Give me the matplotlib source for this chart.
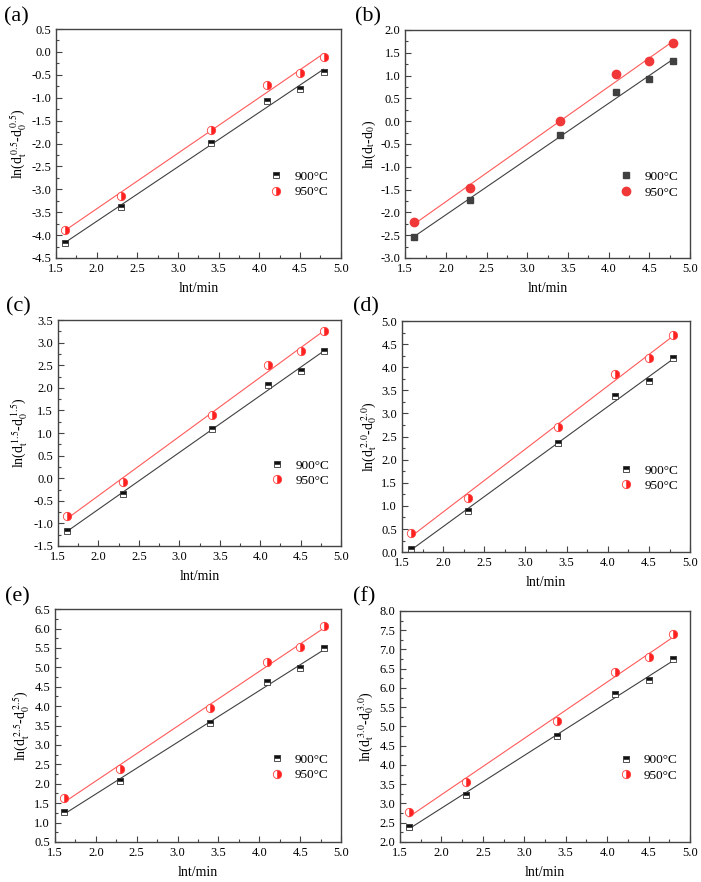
import matplotlib
matplotlib.use('Agg')
import matplotlib.pyplot as plt
import numpy as np

plt.rcParams['font.family'] = 'Liberation Serif'
plt.rcParams['mathtext.fontset'] = 'stix'

# ln t (min)
lnt = [1.61, 2.30, 3.40, 4.09, 4.50, 4.79]

# ln(d_t^n - d_0^n) for n = 0.5, 1.0, 1.5, 2.0, 2.5, 3.0
a_900 = [-4.18, -3.38, -1.98, -1.07, -0.80, -0.44]
a_950 = [-3.88, -3.14, -1.70, -0.72, -0.45, -0.11]
b_900 = [-2.53, -1.73, -0.31, 0.63, 0.93, 1.32]
b_950 = [-2.22, -1.47, 0.00, 1.03, 1.32, 1.71]
c_900 = [-1.17, -0.35, 1.08, 2.06, 2.38, 2.81]
c_950 = [-0.84, -0.08, 1.41, 2.50, 2.82, 3.26]
d_900 = [0.07, 0.90, 2.36, 3.37, 3.71, 4.19]
d_950 = [0.42, 1.18, 2.71, 3.86, 4.20, 4.69]
e_900 = [1.26, 2.08, 3.57, 4.62, 4.97, 5.49]
e_950 = [1.63, 2.39, 3.94, 5.15, 5.52, 6.07]
f_900 = [2.40, 3.23, 4.74, 5.83, 6.20, 6.76]
f_950 = [2.79, 3.55, 5.13, 6.40, 6.80, 7.40]

panels = [
    ('(a)', a_900, a_950, r'ln(d$_\mathrm{t}^{\ 0.5}$-d$_0^{\ 0.5}$)', (-4.5, 0.5), [0.080, 0.7075, 0.406, 0.2596], (4, 17)),
    ('(b)', b_900, b_950, r'ln(d$_\mathrm{t}$-d$_0$)', (-3.0, 2.0), [0.578, 0.7075, 0.4066, 0.2585], (355, 17)),
    ('(c)', c_900, c_950, r'ln(d$_\mathrm{t}^{\ 1.5}$-d$_0^{\ 1.5}$)', (-1.5, 3.5), [0.0827, 0.381, 0.404, 0.256], (6, 307)),
    ('(d)', d_900, d_950, r'ln(d$_\mathrm{t}^{\ 2.0}$-d$_0^{\ 2.0}$)', (0.0, 5.0), [0.5735, 0.374, 0.411, 0.262], (353, 307)),
    ('(e)', e_900, e_950, r'ln(d$_\mathrm{t}^{\ 2.5}$-d$_0^{\ 2.5}$)', (0.5, 6.5), [0.0785, 0.0454, 0.408, 0.264], (5, 597)),
    ('(f)', f_900, f_950, r'ln(d$_\mathrm{t}^{\ 3.0}$-d$_0^{\ 3.0}$)', (2.0, 8.0), [0.5706, 0.0454, 0.4137, 0.262], (353, 597)),
]

fig = plt.figure(figsize=(7.01, 8.82), dpi=100)

for tag, y1, y2, ylab, ylim, pos, lpos in panels:
    ax = fig.add_axes(pos)
    x = np.array(lnt)

    # Linear fits.
    k1, b1 = np.polyfit(x, y1, 1)
    k2, b2 = np.polyfit(x, y2, 1)
    xf = np.array([x.min(), x.max()])
    ax.plot(xf, k1 * xf + b1, color='#404040', lw=0.8)
    ax.plot(xf, k2 * xf + b2, color='#ff5a5a', lw=0.8)

    if tag == '(b)':
        ax.plot(x, y1, 's', color='#404040', ms=5, label='900°C', linestyle='none')
        ax.plot(x, y2, 'o', color='#f03838', ms=6, label='950°C', linestyle='none')
    else:
        ax.plot(x, y1, 's', color='#111111', mfc='#111111', mfcalt='white', mec='#333333',
                fillstyle='top', ms=5, mew=0.6, label='900°C', linestyle='none')
        ax.plot(x, y2, 'o', color='#ff2020', mfc='#ff2020', mfcalt='white', mec='#ff4040',
                fillstyle='right', ms=6, mew=0.6, label='950°C', linestyle='none')

    ax.set_xlim(1.5, 5.0)
    ax.set_ylim(*ylim)
    ax.set_xticks(np.arange(1.5, 5.01, 0.5))
    ax.set_yticks(np.arange(ylim[0], ylim[1] + 0.01, 0.5))
    ax.xaxis.set_major_formatter(matplotlib.ticker.FormatStrFormatter('%.1f'))
    ax.yaxis.set_major_formatter(matplotlib.ticker.FormatStrFormatter('%.1f'))
    ax.xaxis.set_minor_locator(matplotlib.ticker.AutoMinorLocator(2))
    ax.yaxis.set_minor_locator(matplotlib.ticker.AutoMinorLocator(2))
    ax.tick_params(which='both', direction='in', labelsize=9, top=False, right=False, color='#444444')
    ax.tick_params(which='major', length=4, width=0.8)
    ax.tick_params(which='minor', length=2, width=0.8)
    for s in ax.spines.values():
        s.set_color('#444444')
        s.set_linewidth(1.0)

    ax.set_xlabel('lnt/min', fontsize=10, labelpad=5)
    ax.set_ylabel(ylab, fontsize=10, labelpad=2)
    ax.legend(loc='lower right', bbox_to_anchor=(0.99, 0.22), frameon=False, fontsize=9.5,
              handlelength=1.0, handletextpad=0.9, labelspacing=0.25, borderpad=0.2)

    fig.text(lpos[0] / 701, 1 - lpos[1] / 882, tag, fontsize=16, va='center', ha='left')

fig.savefig('out.png', dpi=100)
